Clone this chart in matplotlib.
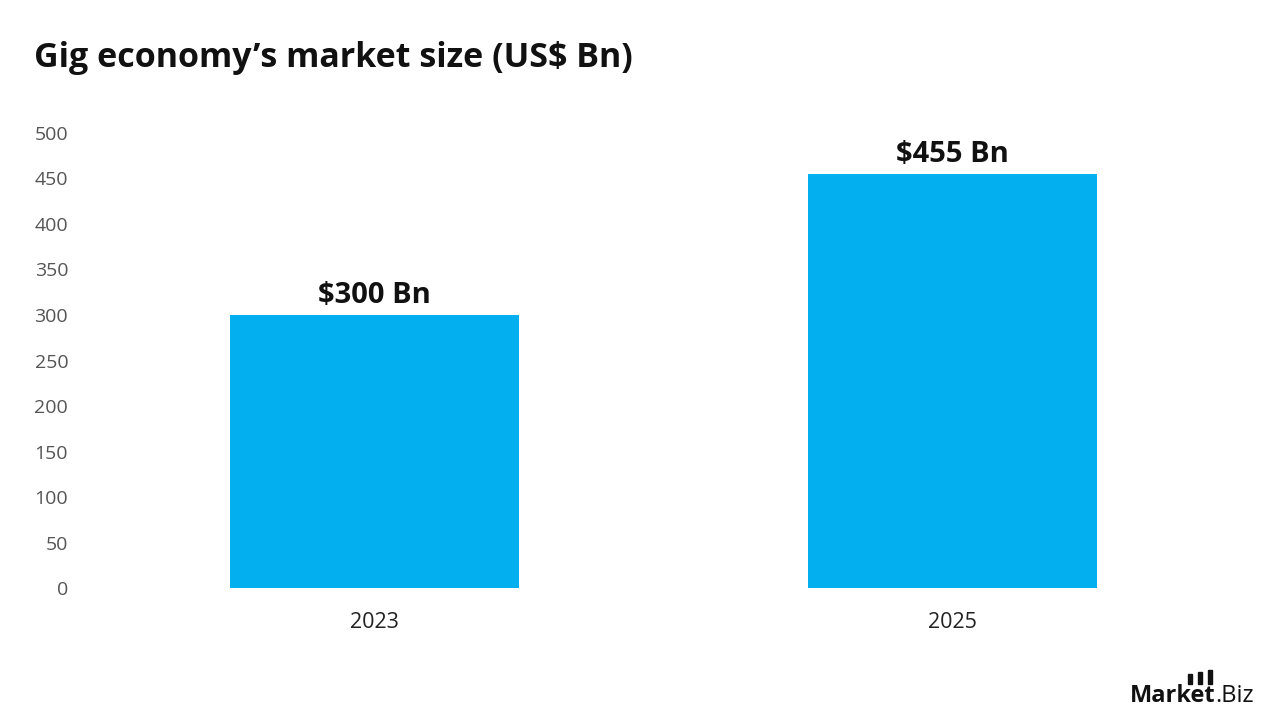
import matplotlib.pyplot as plt
from matplotlib.patches import Rectangle

plt.rcParams['font.family'] = ['Open Sans', 'DejaVu Sans']

years = ['2023', '2025']
market_size = [300, 455]
bar_labels = ['$300 Bn', '$455 Bn']
y_ticks = [0, 50, 100, 150, 200, 250, 300, 350, 400, 450, 500]

bar_color = '#03AFEF'

fig = plt.figure(figsize=(12.8, 7.2), dpi=100)
ax = fig.add_axes([0.0668, 0.1833, 0.903, 0.632])

x = range(len(years))
bars = ax.bar(x, market_size, width=0.5, color=bar_color, zorder=2)

for b, lab in zip(bars, bar_labels):
    ax.text(b.get_x() + b.get_width() / 2, b.get_height() + 5, lab,
            ha='center', va='bottom', fontsize=21, fontweight='bold', color='#111111')

ax.set_xlim(-0.5, 1.5)
ax.set_ylim(0, 500)
ax.set_yticks(y_ticks)
ax.set_xticks(list(x))
ax.set_xticklabels(years)
ax.tick_params(axis='y', length=0, pad=12.5, labelsize=14, labelcolor='#555555')
ax.tick_params(axis='x', length=0, pad=17, labelsize=15.5, labelcolor='#222222')
for s in ax.spines.values():
    s.set_visible(False)

fig.text(34 / 1280, 1 - 58 / 720, 'Gig economy\u2019s market size (US$ Bn)',
         ha='left', va='center', fontsize=24.5, fontweight='bold', color='#111111')

# logo, bottom right
t1 = fig.text(1130 / 1280, 1 - 702 / 720, 'Market', ha='left', va='baseline',
              fontsize=17, fontweight='bold', color='#111111')
fig.canvas.draw()
bb = t1.get_window_extent()
fig.text(bb.x1 / 1280, 1 - 702 / 720, '.Biz', ha='left', va='baseline',
         fontsize=17, color='#111111')
for bx, top in [(1188, 674), (1198, 672), (1208, 670)]:
    fig.patches.append(Rectangle((bx / 1280, (720 - 684) / 720),
                                 4 / 1280, (684 - top) / 720,
                                 transform=fig.transFigure, color='#111111'))

fig.savefig('out.png', dpi=100)
